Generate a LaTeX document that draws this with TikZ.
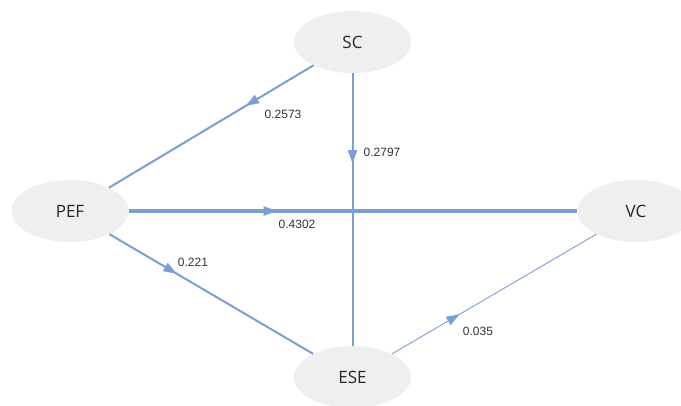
\documentclass[tikz,border=0pt]{standalone}
\usepackage{fontspec}
\setmainfont{Open Sans}
\newfontfamily\coeffamily{Liberation Sans}
\usetikzlibrary{shapes.geometric,decorations.markings,arrows.meta}

\definecolor{edgeblue}{HTML}{7B9FD4}
\definecolor{nodegray}{HTML}{EFEFEF}
\definecolor{coefgray}{HTML}{333333}

\tikzset{
  construct/.style={ellipse, fill=nodegray, draw=none, minimum width=117pt,
    minimum height=62pt, inner sep=0pt, font=\fontsize{17}{17}\selectfont, text=black!85},
  pathline/.style={draw=edgeblue, line width=#1, postaction={decorate},
    decoration={markings, mark=at position 0.33 with
      {\arrow[edgeblue, line width=0.1pt]{Triangle[length=13pt,width=9.5pt]}}}},
  coef/.style={font=\coeffamily\fontsize{12}{12}\selectfont, text=coefgray, inner sep=0pt}
}

\begin{document}
\begin{tikzpicture}[x=1pt,y=-1pt]
  \fill[white] (0,0) rectangle (681,405);
  \useasboundingbox (0,0) rectangle (681,405);
  \clip (0,0) rectangle (681,405);

  % constructs
  \node[construct] (SC)  at (352.5,42)  {SC};
  \node[construct] (PEF) at (70,211)    {PEF};
  \node[construct] (VC)  at (636,211)   {VC};
  \node[construct] (ESE) at (352.5,377) {ESE};

  % structural paths
  \draw[pathline=2pt]   (SC)  -- (PEF);
  \draw[pathline=2pt]   (SC)  -- (ESE);
  \draw[pathline=4pt]   (PEF) -- (VC);
  \draw[pathline=2pt]   (PEF) -- (ESE);
  \draw[pathline=0.9pt] (ESE) -- (VC);

  % path coefficients
  \node[coef] (c1) at (283,114) {0.2573};
  \node[coef] (c2) at (382,152) {0.2797};
  \node[coef] (c3) at (297,224) {0.4302};
  \node[coef] (c4) at (193,262) {0.221};
  \node[coef] (c5) at (478,331) {0.035};
\end{tikzpicture}
\end{document}
